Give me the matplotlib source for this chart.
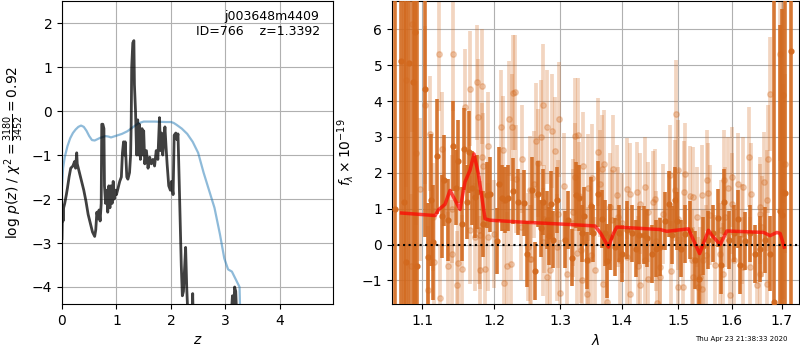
import numpy as np
import matplotlib
matplotlib.use('Agg')
from matplotlib import pyplot as plt
from matplotlib.ticker import NullFormatter, NullLocator

# p(z) curve (z, log p)
pz = np.array([
    (0.0, -2.9), (0.01, -2.2), (0.02, -2.5), (0.03, -2.2), (0.05, -2.1),
    (0.08, -1.9), (0.1, -1.75), (0.13, -1.5), (0.16, -1.3), (0.2, -1.25),
    (0.23, -1.15), (0.25, -1.3), (0.27, -0.95), (0.28, -1.2), (0.3, -1.3),
    (0.33, -1.45), (0.36, -1.6), (0.4, -1.8), (0.44, -2.05), (0.48, -2.35),
    (0.52, -2.55), (0.56, -2.75), (0.6, -2.85), (0.62, -2.7), (0.64, -2.3),
    (0.66, -2.45), (0.68, -2.25), (0.7, -2.5), (0.72, -2.1), (0.73, -0.3),
    (0.75, -0.3), (0.77, -0.4), (0.78, -1.7), (0.8, -2.1), (0.82, -1.8),
    (0.84, -2.3), (0.86, -1.7), (0.88, -2.2), (0.9, -1.7), (0.92, -2.1),
    (0.94, -1.6), (0.96, -2.0), (0.98, -1.8), (1.0, -1.9), (1.03, -1.75),
    (1.06, -1.6), (1.09, -1.5), (1.11, -0.95), (1.13, -0.7), (1.15, -1.0),
    (1.16, -0.7), (1.19, -1.5), (1.21, -1.55), (1.24, -1.4), (1.26, -1.0),
    (1.27, -0.35), (1.28, 1.0), (1.30, 1.55), (1.32, 1.6), (1.33, 0.6),
    (1.35, 0.0), (1.37, -1.0), (1.39, -0.2), (1.40, -1.0), (1.42, -0.3),
    (1.44, -1.1), (1.45, -0.8), (1.47, -0.4), (1.48, -1.0), (1.50, -0.45),
    (1.52, -1.2), (1.55, -0.9), (1.58, -1.3), (1.61, -1.05), (1.64, -1.2),
    (1.67, -1.1), (1.70, -1.25), (1.73, -0.9), (1.76, -1.1), (1.79, -0.15),
    (1.81, -0.9), (1.83, -0.5), (1.85, -1.0), (1.87, -0.7), (1.89, -0.36),
    (1.91, -0.8), (1.93, -1.2), (1.96, -1.7), (1.99, -1.8), (2.01, -1.6),
    (2.04, -1.9), (2.06, -0.55), (2.09, -0.5), (2.11, -0.65), (2.13, -0.52),
    (2.15, -1.5), (2.17, -2.5), (2.19, -3.5), (2.21, -4.2), (2.23, -4.1),
    (2.25, -3.6), (2.27, -3.1), (2.29, -4.0), (2.31, -4.6), (2.35, -5.5),
    (2.39, -4.6), (2.40, -4.15), (2.41, -4.8), (2.45, -6.0), (3.08, -6.0),
    (3.11, -4.6), (3.13, -4.2), (3.15, -4.6), (3.17, -4.0), (3.19, -4.1),
    (3.22, -5.0), (3.5, -6.0), (4.98, -6.0),
])

# scaled chi2 curve (z, value)
chi2 = np.array([
    (0.0, -1.7), (0.02, -1.3), (0.05, -1.05), (0.1, -0.8), (0.15, -0.62),
    (0.2, -0.5), (0.25, -0.42), (0.3, -0.36), (0.35, -0.33), (0.4, -0.36),
    (0.45, -0.45), (0.5, -0.57), (0.55, -0.66), (0.6, -0.67), (0.65, -0.64),
    (0.7, -0.61), (0.8, -0.57), (0.85, -0.58), (0.9, -0.6), (1.0, -0.56),
    (1.1, -0.52), (1.2, -0.46), (1.3, -0.37), (1.4, -0.28), (1.5, -0.24),
    (1.7, -0.24), (1.9, -0.25), (2.0, -0.25), (2.05, -0.27), (2.1, -0.31),
    (2.2, -0.4), (2.3, -0.52), (2.4, -0.7), (2.5, -0.95), (2.6, -1.4),
    (2.7, -1.8), (2.8, -2.2), (2.9, -2.8), (2.98, -3.35), (3.05, -3.6),
    (3.12, -3.65), (3.2, -3.85), (3.26, -4.0), (3.27, -4.5), (3.28, -4.8),
])

# spectrum, strong points (wave um, flux, err)
dark = np.array([
    (1.0645, 1.00, 8), (1.0715, 5.13, 8), (1.0758, 1.18, 8), (1.0785, -0.49, 8),
    (1.0830, 5.07, 8), (1.0874, 4.53, 8), (1.0905, 5.94, 8), (1.0935, -0.59, 8),
    (1.1040, 4.35, 3.6), (1.1083, -0.34, 1.3), (1.1123, 1.25, 1.6),
    (1.1150, 0.06, 1.4), (1.1196, 2.46, 1.4), (1.1269, 0.79, 1.0), (1.1296, 1.79, 1.1),
    (1.1351, 0.68, 1.0), (1.1420, 2.75, 1.1), (1.1454, 1.59, 0.9), (1.1490, 2.32, 1.0),
    (1.1537, 0.58, 0.9), (1.1574, 2.67, 1.0), (1.1616, 1.18, 0.9), (1.1644, 2.58, 1.0),
    (1.1682, 1.58, 0.9), (1.1725, 1.33, 1.0), (1.1758, 1.47, 0.9), (1.1844, 0.57, 0.8),
    (1.1892, 1.37, 0.8), (1.1940, 1.40, 0.9), (1.2037, 0.10, 0.8), (1.2071, 1.68, 0.9),
    (1.2115, 1.29, 0.8), (1.2159, 1.25, 0.8), (1.2207, 1.31, 0.8), (1.2282, 1.50, 0.8),
    (1.2357, 1.18, 0.8), (1.2447, 1.16, 0.8), (1.2483, -0.25, 0.8), (1.2569, 1.53, 0.8),
    (1.2615, -0.73, 0.7), (1.2660, 1.40, 0.8), (1.2697, 0.45, 0.7), (1.2737, 1.20, 0.8),
    (1.2789, 0.68, 0.7), (1.2830, 0.25, 0.7), (1.2856, 1.12, 0.8), (1.2892, 0.14, 0.7),
    (1.2955, 1.23, 0.8), (1.3076, 0.14, 0.7), (1.3128, 0.68, 0.7), (1.3182, -0.36, 0.7),
    (1.3251, 1.37, 0.8), (1.3304, 1.29, 0.8), (1.3342, 0.31, 0.7), (1.3385, 0.79, 0.7),
    (1.3433, -0.44, 0.7), (1.3489, 1.07, 0.7), (1.3532, 0.31, 0.7), (1.3614, 1.40, 0.8),
    (1.3670, 0.71, 0.7), (1.3730, 0.31, 0.8), (1.3764, -0.45, 0.9), (1.3808, 0.20, 0.8),
    (1.3892, -0.06, 0.7), (1.3954, 0.31, 0.7), (1.4010, -0.25, 0.7), (1.4090, 0.40, 0.7),
    (1.4175, 0.31, 0.7), (1.4250, -0.11, 0.7), (1.4307, 0.27, 0.7), (1.4389, 0.26, 0.7),
    (1.4446, 0.18, 0.7), (1.4523, -0.27, 0.7), (1.4599, -0.11, 0.7), (1.4670, -0.06, 0.7),
    (1.4759, 0.66, 0.7), (1.4836, 1.12, 0.8), (1.4885, 0.26, 0.7), (1.4945, 1.25, 0.8),
    (1.4970, 0.66, 0.7), (1.5048, -0.11, 0.7), (1.5121, 0.29, 0.7), (1.5213, 0.40, 0.7),
    (1.5305, -0.42, 0.7), (1.5380, -0.95, 0.8), (1.5460, -0.03, 0.7), (1.5554, 0.12, 0.7),
    (1.5649, 0.31, 0.7), (1.5744, 0.75, 0.7), (1.5795, -0.58, 0.7), (1.5853, 1.19, 0.8),
    (1.5955, 0.12, 0.7), (1.6046, 0.31, 0.7), (1.6130, 0.71, 0.7), (1.6163, -0.56, 0.7),
    (1.6262, 0.10, 0.7), (1.6360, 0.31, 0.7), (1.6446, -0.27, 0.7), (1.6559, -0.11, 0.8),
    (1.6660, 0.12, 0.8), (1.6761, -0.25, 0.9), (1.6843, -1.60, 8), (1.6952, 0.94, 4.5),
    (1.7001, 0.82, 5), (1.7063, 1.44, 8), (1.7187, 5.39, 8),
])

# spectrum, faint points (wave um, flux, err)
faint = np.array([
    (1.0785, 4.60, 3), (1.0851, -0.60, 2), (1.0866, 6.15, 3), (1.0914, 2.56, 2),
    (1.0969, 1.54, 2), (1.1036, 3.90, 2.2), (1.1083, -1.27, 1.8), (1.1229, 5.32, 1.6),
    (1.1238, -1.49, 1.5), (1.1261, 2.66, 1.6), (1.1351, -0.60, 1.5), (1.1400, 1.00, 1.5),
    (1.1420, 5.32, 1.6), (1.1475, -1.13, 1.5), (1.1490, -0.50, 1.5), (1.1537, -0.68, 1.5),
    (1.1584, 3.85, 1.6), (1.1654, 4.35, 1.6), (1.1660, 0.40, 1.5), (1.1725, 0.21, 1.5),
    (1.1749, 4.52, 1.6), (1.1772, 3.57, 1.6), (1.1780, 0.40, 1.5), (1.1796, -0.70, 1.5),
    (1.1820, 4.41, 1.6), (1.1834, 2.18, 1.5), (1.1863, -0.68, 1.5), (1.1915, 2.75, 1.5),
    (1.2000, 0.30, 1.5), (1.2095, 3.27, 1.6), (1.2149, -1.06, 1.5), (1.2184, -0.59, 1.5),
    (1.2218, 3.51, 1.6), (1.2263, 3.27, 1.5), (1.2282, 4.23, 1.6), (1.2400, 0.50, 1.5),
    (1.2533, -0.39, 1.5), (1.2624, 2.90, 1.6), (1.2706, 2.99, 1.6), (1.2737, 3.90, 1.7),
    (1.2789, -0.90, 1.5), (1.2798, 3.28, 1.6), (1.2840, -0.72, 1.5), (1.2876, 3.17, 1.6),
    (1.2923, 2.61, 1.5), (1.2986, 3.49, 1.6), (1.2995, -1.36, 1.5), (1.3102, -0.83, 1.5),
    (1.3200, 0.90, 1.5), (1.3235, 3.04, 1.6), (1.3288, 3.05, 1.6), (1.3342, -0.99, 1.5),
    (1.3364, 2.20, 1.5), (1.3423, -1.38, 1.5), (1.3500, -0.30, 1.5), (1.3604, 2.59, 1.5),
    (1.3708, 2.26, 1.5), (1.3753, -1.60, 1.5), (1.3864, 2.11, 1.5), (1.4000, 0.60, 1.4),
    (1.4147, -1.38, 1.4), (1.4290, -0.60, 1.4), (1.4406, 1.61, 1.4), (1.4552, 1.20, 1.4),
    (1.4575, 1.26, 1.4), (1.4600, 0.10, 1.4), (1.4670, -0.90, 1.4), (1.4849, 1.93, 1.4),
    (1.4958, 3.65, 1.5), (1.5000, 0.70, 1.4), (1.5090, -1.18, 1.4), (1.5121, 1.98, 1.4),
    (1.5268, 1.33, 1.4), (1.5398, -0.90, 1.4), (1.5500, -0.30, 1.4), (1.5554, 1.44, 1.4),
    (1.5800, 0.40, 1.4), (1.5839, -0.81, 1.4), (1.5968, -1.41, 1.4), (1.6001, 1.14, 1.4),
    (1.6130, 1.70, 1.4), (1.6200, 0.30, 1.4), (1.6228, -0.62, 1.4), (1.6340, 2.44, 1.4),
    (1.6492, -1.13, 1.4), (1.6559, 1.05, 1.4), (1.6600, 0.50, 1.4), (1.6626, 1.75, 1.4),
    (1.6707, 2.39, 1.5), (1.6761, 4.20, 1.6), (1.6965, 5.32, 3), (1.7020, 4.16, 3),
    (1.7068, 2.26, 2.5),
    (1.1103, 3.09, 1.6), (1.1150, 0.77, 1.5), (1.1160, -0.48, 1.5), (1.1398, -0.25, 1.5),
    (1.1796, 0.26, 1.5), (1.1820, 2.44, 1.5), (1.1915, 0.21, 1.5), (1.2125, 2.63, 1.5),
    (1.2243, -0.53, 1.5), (1.2308, 4.25, 1.6), (1.2322, 1.83, 1.5), (1.2408, 2.38, 1.5),
    (1.2507, -0.07, 1.5), (1.2533, 1.53, 1.5), (1.2548, -0.39, 1.5), (1.2590, 1.68, 1.5),
    (1.2660, 2.28, 1.5), (1.2737, 0.07, 1.5), (1.2752, 0.72, 1.5), (1.2945, -0.08, 1.5),
    (1.2970, 0.86, 1.5), (1.3065, 1.62, 1.5), (1.3208, 0.60, 1.5), (1.3235, 1.88, 1.5),
    (1.3262, -0.23, 1.5), (1.3299, 1.35, 1.5), (1.3331, -0.14, 1.5), (1.3440, 1.59, 1.5),
    (1.3440, -0.44, 1.5), (1.3505, 1.87, 1.5), (1.3559, -0.72, 1.5), (1.3642, 1.70, 1.5),
    (1.3670, 2.12, 1.5), (1.3697, -1.09, 1.5), (1.3808, 1.05, 1.5), (1.3836, 0.68, 1.4),
    (1.3921, 1.37, 1.4), (1.3948, 0.77, 1.4), (1.3976, -0.44, 1.4), (1.4090, 1.56, 1.4),
    (1.4090, -0.35, 1.4), (1.4147, 1.42, 1.4), (1.4262, 1.47, 1.4), (1.4319, 1.14, 1.4),
    (1.4319, -1.13, 1.4), (1.4406, -0.44, 1.4), (1.4464, 0.91, 1.4), (1.4464, -0.95, 1.4),
    (1.4611, -1.64, 1.4), (1.4670, -0.62, 1.4), (1.4729, 0.86, 1.4), (1.4862, -0.74, 1.4),
    (1.4940, 1.51, 1.4), (1.4999, 2.07, 1.4), (1.4999, -1.18, 1.4), (1.5103, 1.48, 1.4),
    (1.5213, 1.35, 1.4), (1.5244, -0.44, 1.4), (1.5260, -0.90, 1.4), (1.5336, 0.77, 1.4),
    (1.5367, -1.18, 1.4), (1.5430, 1.37, 1.4), (1.5430, -1.23, 1.4), (1.5449, -0.44, 1.4),
    (1.5525, 1.79, 1.4), (1.5586, 0.82, 1.4), (1.5681, -0.58, 1.4), (1.5776, -0.25, 1.4),
    (1.5840, 1.79, 1.4), (1.5872, 0.77, 1.4), (1.5936, 1.59, 1.4), (1.6001, 1.88, 1.4),
    (1.6033, -0.44, 1.4), (1.6228, 1.60, 1.4), (1.6360, -0.62, 1.4), (1.6374, 1.42, 1.4),
    (1.6559, 0.86, 1.4), (1.6559, -0.81, 1.4), (1.6694, 1.23, 1.4), (1.6694, -1.09, 1.4),
    (1.7032, 1.47, 3),
])

# best-fit model
model = np.array([
    (1.0728, 0.88), (1.1173, 0.81), (1.1217, 0.97), (1.1306, 1.12), (1.1375, 1.51),
    (1.1514, 0.98), (1.1584, 1.75), (1.1654, 2.07), (1.1710, 2.53), (1.1772, 1.98),
    (1.1868, 0.72), (1.1940, 0.68), (1.2382, 0.63), (1.3049, 0.57), (1.3559, 0.52),
    (1.3653, 0.31), (1.3780, -0.07), (1.3864, 0.31), (1.3921, 0.49), (1.4670, 0.42),
    (1.4789, 0.37), (1.5182, 0.44), (1.5275, 0.12), (1.5388, -0.25), (1.5554, 0.40),
    (1.5623, 0.25), (1.5776, 0.00), (1.5904, 0.38), (1.6626, 0.34), (1.6761, 0.25),
    (1.6897, 0.34), (1.6965, 0.31), (1.7048, -0.07),
])

zticks = [0, 1, 2, 3, 4]
wticks = [1.1, 1.2, 1.3, 1.4, 1.5, 1.6, 1.7]
orange = '#d2691e'

fig = plt.figure(figsize=(8, 3.5), dpi=100)
ax = fig.add_axes([0.0775, 0.131, 0.339, 0.866])
ax.plot(chi2[:, 0], chi2[:, 1], color='#1f77b4', alpha=0.5, lw=1.6)
ax.plot(pz[:, 0], pz[:, 1], color='k', alpha=0.75, lw=2)
ax.set_xlim(0, 4.98)
ax.set_ylim(-4.39, 2.5)
ax.set_xticks(zticks)
ax.set_xlabel('$z$')
ax.set_ylabel(r'log $p(z)$ / $\chi^2=\frac{3180}{3452}=0.92$')
ax.grid()
ax.text(0.95, 0.97, 'j003648m4409\nID=766    z=1.3392', ha='right', va='top',
        transform=ax.transAxes, fontsize=9)

ax2 = fig.add_axes([0.49, 0.131, 0.509, 0.866])
ax2.errorbar(faint[:, 0], faint[:, 1], faint[:, 2], fmt='o', color=orange,
             alpha=0.28, ms=4, elinewidth=2.7, capsize=0, zorder=2)
ax2.errorbar(dark[:, 0], dark[:, 1], dark[:, 2] * 1.15, fmt='o', color=orange,
             alpha=0.9, ms=3.5, elinewidth=2.6, capsize=0, zorder=3)
ax2.plot(model[:, 0], model[:, 1], color='r', alpha=0.7, lw=2.5, zorder=4)
ax2.axhline(0, color='k', linestyle=':', lw=1.5, zorder=5)
ax2.set_xscale('log')
ax2.set_xlim(1.0604, 1.736)
ax2.set_ylim(-1.66, 6.79)
ax2.set_xticks(wticks)
ax2.set_xticklabels([f'{w:.1f}' for w in wticks])
ax2.xaxis.set_minor_locator(NullLocator())
ax2.xaxis.set_minor_formatter(NullFormatter())
ax2.set_xlabel(r'$\lambda$')
ax2.set_ylabel(r'$f_\lambda\times10^{-19}$')
ax2.grid()

fig.text(0.984, 0.031, 'Thu Apr 23 21:38:33 2020', ha='right', va='center', fontsize=5)

fig.savefig('out.png', dpi=100)
